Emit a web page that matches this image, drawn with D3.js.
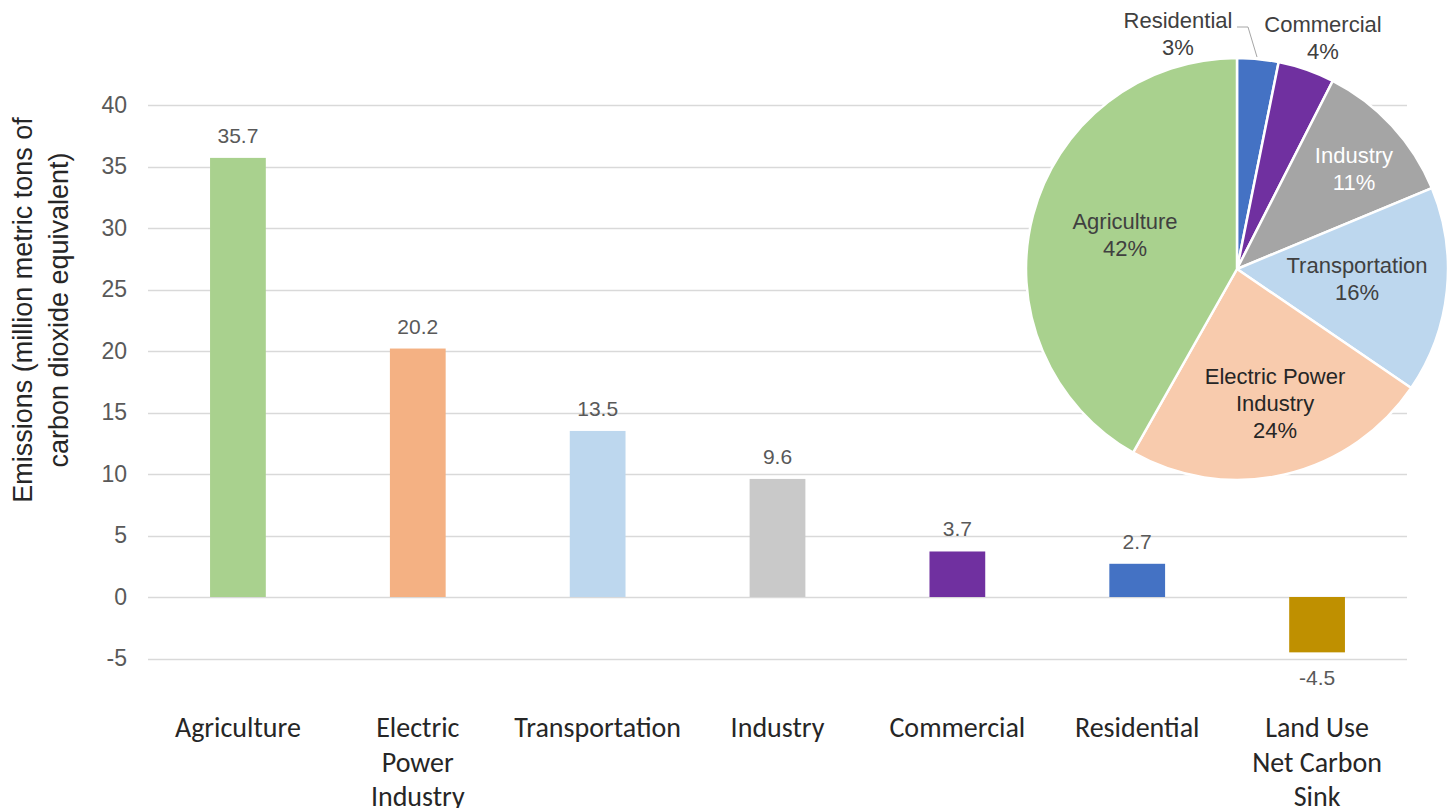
<!DOCTYPE html>
<html>
<head>
<meta charset="utf-8">
<script src="https://cdn.jsdelivr.net/npm/d3@7"></script>
<style>
  body { margin: 0; background: #fff; }
  svg { display: block; }
</style>
</head>
<body>
<div id="chart"></div>
<script>
// chart data
var categories = ["Agriculture", "Electric Power Industry", "Transportation", "Industry", "Commercial", "Residential", "Land Use Net Carbon Sink"];
var categoryLines = [["Agriculture"], ["Electric", "Power", "Industry"], ["Transportation"], ["Industry"], ["Commercial"], ["Residential"], ["Land Use", "Net Carbon", "Sink"]];
var emissions = [35.7, 20.2, 13.5, 9.6, 3.7, 2.7, -4.5];
var barColors = ["#A9D18E", "#F4B183", "#BDD7EE", "#C9C9C9", "#7030A0", "#4472C4", "#BF9000"];
var yTicks = [-5, 0, 5, 10, 15, 20, 25, 30, 35, 40];

// pie uses the positive sources, drawn clockwise from 12 o'clock
var pieNames = ["Residential", "Commercial", "Industry", "Transportation", "Electric Power Industry", "Agriculture"];
var pieLabelLines = [["Residential"], ["Commercial"], ["Industry"], ["Transportation"], ["Electric Power", "Industry"], ["Agriculture"]];
var pieColors = ["#4472C4", "#7030A0", "#A5A5A5", "#BDD7EE", "#F8CBAD", "#A9D18E"];

var W = 1452, H = 808;
var ARIAL = "'Liberation Sans', Arial, sans-serif";
var svg = d3.select("#chart").append("svg").attr("width", W).attr("height", H);

// ---- bar chart
var x = d3.scaleBand().domain(categories).range([148, 1407]).paddingInner(0.69).paddingOuter(0.345);
var y = d3.scaleLinear().domain([-5, 40]).range([658.5, 105]);

svg.append("g").selectAll("line").data(yTicks).enter().append("line")
  .attr("x1", 148).attr("x2", 1407)
  .attr("y1", function(d){ return Math.round(y(d)) + 0.5; })
  .attr("y2", function(d){ return Math.round(y(d)) + 0.5; })
  .attr("stroke", "#d9d9d9").attr("stroke-width", 1.3);

var yAxis = svg.append("g").attr("transform", "translate(148,0)")
  .call(d3.axisLeft(y).tickValues(yTicks).tickSize(0).tickPadding(21)
    .tickFormat(function(d){ return String(d); }));
yAxis.select(".domain").remove();
yAxis.selectAll("text").attr("font-family", ARIAL)
  .attr("font-size", 23).attr("fill", "#595959");

svg.append("g").selectAll("rect").data(emissions).enter().append("rect")
  .attr("x", function(d, i){ return x(categories[i]); })
  .attr("width", x.bandwidth())
  .attr("y", function(d){ return y(Math.max(0, d)); })
  .attr("height", function(d){ return Math.abs(y(d) - y(0)); })
  .attr("fill", function(d, i){ return barColors[i]; });

svg.append("g").selectAll("text").data(emissions).enter().append("text")
  .attr("x", function(d, i){ return x(categories[i]) + x.bandwidth() / 2; })
  .attr("y", function(d){ return d >= 0 ? y(d) - 15 : y(d) + 33; })
  .attr("text-anchor", "middle")
  .attr("font-family", ARIAL)
  .attr("font-size", 21).attr("fill", "#595959")
  .text(function(d){ return d.toFixed(1); });

// category labels under the plot
var catG = svg.append("g").selectAll("text").data(categoryLines).enter().append("text")
  .attr("text-anchor", "middle")
  .attr("font-family", "Carlito, Calibri, 'Liberation Sans Narrow', sans-serif")
  .attr("font-size", 28).attr("fill", "#262626");
catG.selectAll("tspan").data(function(d, i){ return d.map(function(t){ return {t: t, i: i}; }); })
  .enter().append("tspan")
  .attr("x", function(d){ return x(categories[d.i]) + x.bandwidth() / 2; })
  .attr("y", function(d, j){ return 737 + j * 34.5; })
  .text(function(d){ return d.t; });

// y axis title
var yt = svg.append("text")
  .attr("transform", "translate(0,310) rotate(-90)")
  .attr("text-anchor", "middle")
  .attr("font-family", ARIAL)
  .attr("font-size", 27).attr("fill", "#262626");
yt.append("tspan").attr("x", 0).attr("y", 32).text("Emissions (million metric tons of");
yt.append("tspan").attr("x", 0).attr("y", 68).text("carbon dioxide equivalent)");

// ---- pie chart
var cx = 1237, cy = 269, R = 211;
var pieVals = pieNames.map(function(n){ return emissions[categories.indexOf(n)]; });
var total = d3.sum(pieVals);
var pie = d3.pie().sort(null).value(function(d){ return d; });
var arcs = pie(pieVals);
var arc = d3.arc().innerRadius(0).outerRadius(R);

var pg = svg.append("g").attr("transform", "translate(" + cx + "," + cy + ")");
pg.selectAll("path").data(arcs).enter().append("path")
  .attr("d", arc)
  .attr("fill", function(d, i){ return pieColors[i]; })
  .attr("stroke", "#fff").attr("stroke-width", 2.5);

// first-line baseline of each label, relative to pie centre
var labelPos = [[-59, -241], [86, -237], [117, -106], [120, 4], [38, 115], [-112, -40]];
var labelFill = ["#404040", "#404040", "#ffffff", "#404040", "#262626", "#404040"];

// leader line for the thin residential slice
pg.append("polyline")
  .attr("points", [[0, -242], [11, -242], [20, -212]].join(" "))
  .attr("fill", "none").attr("stroke", "#a6a6a6").attr("stroke-width", 1);

var pl = pg.selectAll("text.pl").data(arcs).enter().append("text")
  .attr("class", "pl")
  .attr("text-anchor", "middle")
  .attr("font-family", ARIAL)
  .attr("font-size", 22)
  .attr("fill", function(d, i){ return labelFill[i]; });
pl.each(function(d, i){
  var t = d3.select(this);
  var lines = pieLabelLines[i].concat([Math.round(d.value / total * 100) + "%"]);
  lines.forEach(function(s, j){
    t.append("tspan").attr("x", labelPos[i][0]).attr("y", labelPos[i][1] + j * 27).text(s);
  });
});
</script>
</body>
</html>
